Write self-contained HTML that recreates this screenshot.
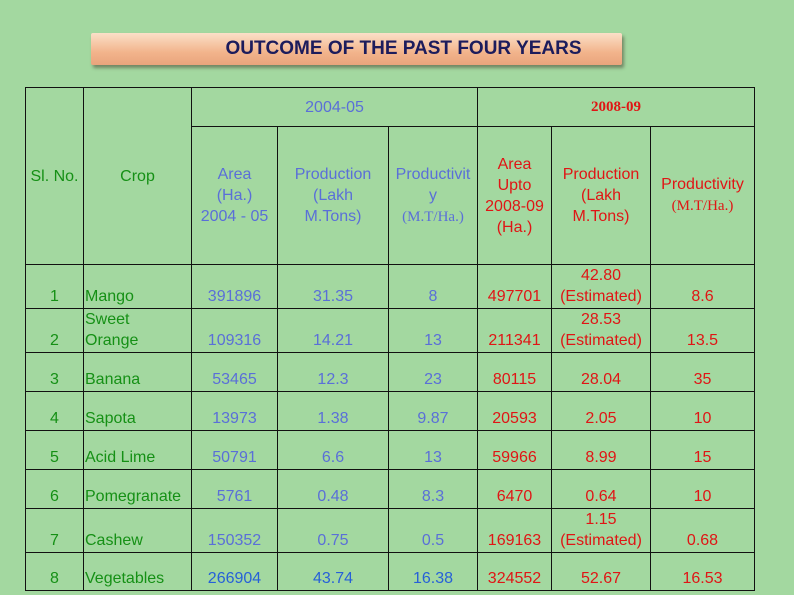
<!DOCTYPE html>
<html><head><meta charset="utf-8">
<style>
body{margin:0;width:794px;height:595px;background:#a3d8a0;position:relative;overflow:hidden;font-family:"Liberation Sans",Arial,sans-serif;}
#title{position:absolute;left:91px;top:33px;width:531px;height:32px;background:linear-gradient(#fbe0c8,#f2b48c 60%,#e9a47c);box-shadow:2px 3px 3px rgba(80,80,60,0.6);border-radius:2px;}
#title span{position:absolute;left:0;right:0;top:5px;text-align:center;font-weight:bold;font-size:19px;color:#1c1c5c;padding-left:94px;}
table{position:absolute;left:25px;top:87px;border-collapse:collapse;table-layout:fixed;}
td{border:1.5px solid #111;padding:0 1px;font-size:16px;line-height:21px;text-align:center;vertical-align:bottom;padding-bottom:1px;white-space:nowrap;overflow:visible;}
.g{color:#159015}.b{color:#5a6fd8}.r{color:#e01515}.bb{color:#2660d8}
.l{text-align:left}
.hd td{vertical-align:middle;padding:0;}
.ser{font-family:"Liberation Serif",serif;font-size:15px;}
</style></head><body>
<div id="title"><span>OUTCOME OF THE PAST FOUR YEARS</span></div>
<table>
<colgroup><col style="width:58px"><col style="width:108px"><col style="width:86px"><col style="width:111px"><col style="width:89px"><col style="width:74px"><col style="width:99px"><col style="width:104px"></colgroup>
<tr class="hd" style="height:39px">
<td rowspan="2" class="g">Sl. No.</td>
<td rowspan="2" class="g">Crop</td>
<td colspan="3" class="b">2004-05</td>
<td colspan="3" class="r ser" style="font-weight:bold">2008-09</td>
</tr>
<tr class="hd" style="height:138px">
<td class="b">Area<br>(Ha.)<br>2004 - 05</td>
<td class="b">Production<br>(Lakh<br>M.Tons)</td>
<td class="b" style="overflow:hidden">Productivit<br>y<br><span class="ser">(M.T/Ha.)</span></td>
<td class="r">Area<br>Upto<br>2008-09<br>(Ha.)</td>
<td class="r">Production<br>(Lakh<br>M.Tons)</td>
<td class="r">Productivity<br><span class="ser">(M.T/Ha.)</span></td>
</tr>
<tr style="height:42px"><td class="g">1</td><td class="g l">Mango</td><td class="b">391896</td><td class="b">31.35</td><td class="b">8</td><td class="r">497701</td><td class="r">42.80<br>(Estimated)</td><td class="r">8.6</td></tr>
<tr style="height:43px"><td class="g">2</td><td class="g l">Sweet<br>Orange</td><td class="b">109316</td><td class="b">14.21</td><td class="b">13</td><td class="r">211341</td><td class="r">28.53<br>(Estimated)</td><td class="r">13.5</td></tr>
<tr style="height:39px"><td class="g">3</td><td class="g l">Banana</td><td class="b">53465</td><td class="b">12.3</td><td class="b">23</td><td class="r">80115</td><td class="r">28.04</td><td class="r">35</td></tr>
<tr style="height:39px"><td class="g">4</td><td class="g l">Sapota</td><td class="b">13973</td><td class="b">1.38</td><td class="b">9.87</td><td class="r">20593</td><td class="r">2.05</td><td class="r">10</td></tr>
<tr style="height:39px"><td class="g">5</td><td class="g l">Acid Lime</td><td class="b">50791</td><td class="b">6.6</td><td class="b">13</td><td class="r">59966</td><td class="r">8.99</td><td class="r">15</td></tr>
<tr style="height:39px"><td class="g">6</td><td class="g l">Pomegranate</td><td class="b">5761</td><td class="b">0.48</td><td class="b">8.3</td><td class="r">6470</td><td class="r">0.64</td><td class="r">10</td></tr>
<tr style="height:43px"><td class="g">7</td><td class="g l">Cashew</td><td class="b">150352</td><td class="b">0.75</td><td class="b">0.5</td><td class="r">169163</td><td class="r">1.15<br>(Estimated)</td><td class="r">0.68</td></tr>
<tr style="height:38px"><td class="g">8</td><td class="g l">Vegetables</td><td class="bb">266904</td><td class="bb">43.74</td><td class="bb">16.38</td><td class="r">324552</td><td class="r">52.67</td><td class="r">16.53</td></tr>
</table>
</body></html>
